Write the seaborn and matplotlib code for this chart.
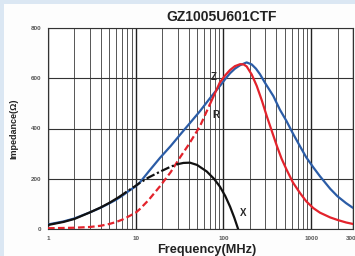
import numpy as np
import pandas as pd
import matplotlib
matplotlib.use("Agg")
import matplotlib.pyplot as plt
from matplotlib.ticker import LogLocator, MultipleLocator, FixedLocator, NullFormatter
import seaborn as sns

# Z, R, X of GZ1005U601CTF (MHz, ohm)
z_freq = [1, 1.5, 2, 3, 4, 5, 6, 7, 8, 10, 11.2, 14, 18.9, 25, 32, 40, 54, 70, 91, 105, 119, 135, 155,
          184, 210, 235, 261, 300, 371, 440, 525, 620, 747, 880, 1060, 1260, 1650, 2000, 2500, 3000]
z_val = [18, 30, 42, 66, 85, 102, 117, 132, 147, 170, 186, 228, 283, 330, 375, 415, 469, 520, 569, 597, 620, 638, 652,
         663, 655, 638, 616, 580, 529, 475, 429, 380, 329, 285, 245, 210, 160, 130, 103, 84]

r_freq = [1, 2, 3, 4, 5, 6, 7, 8, 10, 11.2, 14, 18.9, 25, 32, 40, 54, 70, 91, 105, 119, 135, 155, 170, 184,
          210, 240, 275, 312, 360, 408, 460, 525, 620, 747, 880, 1060, 1260, 1650, 2000, 2500, 3000]
r_val = [3, 5, 8, 13, 20, 28, 37, 47, 65, 80, 115, 170, 226, 285, 335, 409, 496, 583, 612, 633, 648, 656, 655, 647,
         615, 569, 510, 449, 385, 329, 280, 236, 185, 143, 110, 83, 65, 46, 36, 26, 20]
r_dash_end = 70  # R is dashed up to here

x_freq = [1, 1.5, 2, 3, 4, 5, 6.5, 8, 10, 11.2, 14, 18.9, 25, 30, 35, 41.5, 50, 64.5, 78, 91, 105, 119, 133, 147]
x_val = [16, 28, 40, 66, 86, 104, 128, 150, 172, 184, 205, 228, 248, 258, 263, 264, 255, 229, 200, 169, 131, 89, 45, 0]
x_dash = (6.5, 30)  # dash-dot part of X

x_ticks = [1, 10, 100, 1000, 3000]
x_ticklabels = ["1", "10", "100", "1000", "3000"]
y_ticks = [0, 200, 400, 600, 800]

z = pd.DataFrame({"f": z_freq, "v": z_val})
r = pd.DataFrame({"f": r_freq, "v": r_val})
x = pd.DataFrame({"f": x_freq, "v": x_val})

sns.set_style("white")
plt.rcParams["font.family"] = ["Liberation Sans", "DejaVu Sans"]

fig = plt.figure(figsize=(3.55, 2.56), dpi=100)
fig.patch.set_facecolor("#dbe7f3")
fig.patches.append(plt.Rectangle((4 / 355, 0), 1, 1 - 4 / 256, transform=fig.transFigure,
                                 facecolor="#fdfdfd", edgecolor="none", zorder=-10))
ax = fig.add_axes([48 / 355, 1 - 229 / 256, 305 / 355, 201 / 256])
ax.set_facecolor("white")

blue, red, black = "#2b5ca6", "#e3232c", "#111111"

sns.lineplot(data=z, x="f", y="v", ax=ax, color=blue, lw=1.6, zorder=3)
sns.lineplot(data=r[r.f <= r_dash_end], x="f", y="v", ax=ax, color=red, lw=1.6, ls=(0, (3, 1.5)), zorder=4)
sns.lineplot(data=r[r.f >= r_dash_end], x="f", y="v", ax=ax, color=red, lw=1.6, zorder=4)
sns.lineplot(data=x[x.f <= x_dash[0]], x="f", y="v", ax=ax, color=black, lw=1.6, zorder=5)
sns.lineplot(data=x[(x.f >= x_dash[0]) & (x.f <= x_dash[1])], x="f", y="v", ax=ax, color=black,
             lw=1.6, ls=(0, (4, 1.2, 1, 1.2)), zorder=5)
sns.lineplot(data=x[x.f >= x_dash[1]], x="f", y="v", ax=ax, color=black, lw=1.6, zorder=5)

ax.set_xscale("log")
ax.set_xlim(1, 3000)
ax.set_ylim(0, 800)

ax.xaxis.set_major_locator(FixedLocator(x_ticks))
ax.set_xticklabels(x_ticklabels)
ax.xaxis.set_minor_locator(LogLocator(base=10, subs=np.arange(2, 10)))
ax.xaxis.set_minor_formatter(NullFormatter())
ax.set_yticks(y_ticks)
ax.yaxis.set_minor_locator(MultipleLocator(50))

ax.grid(which="major", axis="x", color="#222222", lw=1.0)
ax.grid(which="minor", axis="x", color="#4a4a4a", lw=0.65)
ax.grid(which="major", axis="y", color="#333333", lw=0.8)

ax.tick_params(axis="both", which="major", labelsize=4.5, labelcolor="#555555", length=3, width=0.6, pad=2)
ax.tick_params(axis="y", which="minor", direction="in", length=2, width=0.5, color="#777777")
ax.tick_params(axis="x", which="minor", length=0)
for lab in ax.get_xticklabels() + ax.get_yticklabels():
    lab.set_fontweight("bold")

for s in ax.spines.values():
    s.set_color("#333333")
    s.set_linewidth(0.8)

ax.set_xlabel("Frequency(MHz)", fontsize=9.2, fontweight="bold", color="#222222", labelpad=3)
ax.xaxis.set_label_coords((207 - 48) / 305, -0.075)
ax.set_ylabel("Impedance(\u03a9)", fontsize=6.5, fontweight="bold", color="#222222", labelpad=9)
fig.text(222 / 355, 1 - 17 / 256, "GZ1005U601CTF", ha="center", va="center",
         fontsize=10, fontweight="bold", color="#222222")

ax.text(78, 603, "Z", fontsize=7, fontweight="bold", ha="center", va="center", zorder=6)
ax.text(83, 452, "R", fontsize=7, fontweight="bold", ha="center", va="center", zorder=6)
ax.text(167, 62, "X", fontsize=7, fontweight="bold", ha="center", va="center", zorder=6)

fig.savefig("out.png", dpi=100, facecolor=fig.get_facecolor())
